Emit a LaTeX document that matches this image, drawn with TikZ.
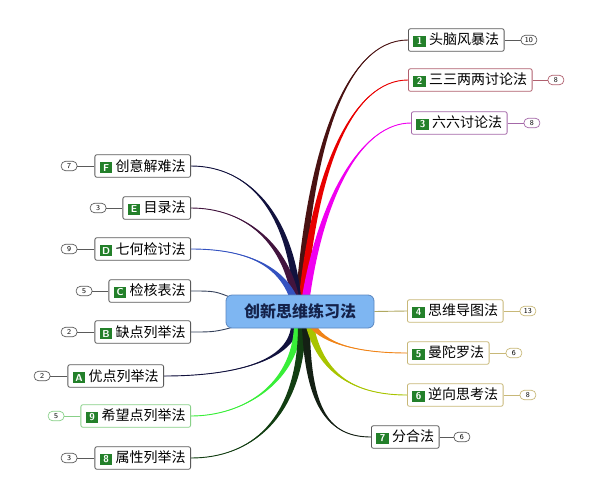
\documentclass[tikz,border=0pt]{standalone}
\usepackage{fontspec}
\newfontfamily\cjk{Noto Sans CJK SC}
\usetikzlibrary{calc,positioning,backgrounds}

\definecolor{hubfill}{HTML}{7EB6F2}
\definecolor{hubline}{HTML}{5A86C0}
\definecolor{hubtext}{HTML}{14224A}
\definecolor{badgegreen}{HTML}{23802A}
\definecolor{boxgray}{HTML}{5A5A5A}
\definecolor{boxred}{HTML}{B0606E}
\definecolor{boxpurple}{HTML}{A468A8}
\definecolor{boxolive}{HTML}{C8B878}
\definecolor{boxgreen}{HTML}{88D088}
\definecolor{brmaroon}{HTML}{4A1212}
\definecolor{brred}{HTML}{E80000}
\definecolor{brmagenta}{HTML}{F000F0}
\definecolor{brnavy}{HTML}{12123E}
\definecolor{brplum}{HTML}{42143E}
\definecolor{brblue}{HTML}{3452C0}
\definecolor{brslate}{HTML}{34405A}
\definecolor{brgreen}{HTML}{38EE38}
\definecolor{brdkgreen}{HTML}{123E12}
\definecolor{brblack}{HTML}{142014}
\definecolor{brlime}{HTML}{A8C400}
\definecolor{brorange}{HTML}{F08418}
\definecolor{brolive}{HTML}{B0A860}

\newcommand{\numbadge}[1]{{\setlength{\fboxsep}{1.8pt}\colorbox{badgegreen}{\makebox[9pt]{\color{white}\sffamily\bfseries\fontsize{10}{10}\selectfont #1}}}}

% colour, start, control 1, control 2, end
\newcommand{\branch}[5]{%
  \fill[#1] ($(#2)+(-4,0)$) .. controls ($(#3)+(-2.5,0)$) and (#4) .. (#5)
    .. controls (#4) and ($(#3)+(2.5,0)$) .. ($(#2)+(4,0)$) -- cycle;
  \draw[#1,line width=0.9pt] (#2) .. controls (#3) and (#4) .. (#5);
}

\tikzset{
  hub/.style={draw=hubline,fill=hubfill,rounded corners=6pt,line width=0.8pt,
    minimum width=148pt,minimum height=33pt,text=hubtext,
    font=\cjk\bfseries\fontsize{16}{18}\selectfont},
  topic/.style={draw=#1,fill=white,rounded corners=2pt,line width=0.8pt,
    minimum height=22.5pt,inner xsep=5pt,inner ysep=2pt,font=\cjk\fontsize{14}{16}\selectfont},
  topic/.default=boxgray,
  count/.style={draw=#1,fill=white,rounded corners=4.5pt,line width=0.7pt,
    minimum width=16pt,minimum height=9.5pt,inner xsep=2pt,inner ysep=0.3pt,
    font=\sffamily\fontsize{7.5}{8}\selectfont},
  count/.default=boxgray,
  link/.style={draw=#1,line width=0.8pt},
  link/.default=boxgray
}

\begin{document}
\begin{tikzpicture}[x=1pt,y=-1pt]
  \useasboundingbox (0,0) rectangle (600,499);

  \node[hub] (ctr) at (300,311.5) {创新思维练习法};

  % right side
  \node[topic,anchor=west] (t1) at (408,40) {\numbadge{1} 头脑风暴法};
  \node[topic=boxred,anchor=west] (t2) at (408,80) {\numbadge{2} 三三两两讨论法};
  \node[topic=boxpurple,anchor=west] (t3) at (411,123) {\numbadge{3} 六六讨论法};
  \node[topic=boxolive,anchor=west] (t4) at (407,311) {\numbadge{4} 思维导图法};
  \node[topic=boxolive,anchor=west] (t5) at (407,353) {\numbadge{5} 曼陀罗法};
  \node[topic=boxolive,anchor=west] (t6) at (407,395) {\numbadge{6} 逆向思考法};
  \node[topic,anchor=west] (t7) at (371,437) {\numbadge{7} 分合法};

  % left side
  \node[topic,anchor=east] (tF) at (191,166) {\numbadge{F} 创意解难法};
  \node[topic,anchor=east] (tE) at (191,208) {\numbadge{E} 目录法};
  \node[topic,anchor=east] (tD) at (191,249) {\numbadge{D} 七何检讨法};
  \node[topic,anchor=east] (tC) at (191,291) {\numbadge{C} 检核表法};
  \node[topic,anchor=east] (tB) at (191,332) {\numbadge{B} 缺点列举法};
  \node[topic,anchor=east] (tA) at (164,376) {\numbadge{A} 优点列举法};
  \node[topic=boxgreen,anchor=east] (t9) at (191,416) {\numbadge{9} 希望点列举法};
  \node[topic,anchor=east] (t8) at (191,458) {\numbadge{8} 属性列举法};

  % counts
  \node[count,right=16pt of t1] (n1) {10};
  \node[count=boxred,right=15pt of t2] (n2) {8};
  \node[count=boxpurple,right=16pt of t3] (n3) {8};
  \node[count=boxolive,right=16pt of t4] (n4) {13};
  \node[count=boxolive,right=16pt of t5] (n5) {6};
  \node[count=boxolive,right=16pt of t6] (n6) {8};
  \node[count,right=14pt of t7] (n7) {6};
  \node[count,left=17pt of tF] (nF) {7};
  \node[count,left=16pt of tE] (nE) {3};
  \node[count,left=17pt of tD] (nD) {9};
  \node[count,left=16pt of tC] (nC) {5};
  \node[count,left=17pt of tB] (nB) {2};
  \node[count,left=17pt of tA] (nA) {2};
  \node[count=boxgreen,left=16pt of t9] (n9) {5};
  \node[count,left=17pt of t8] (n8) {3};

  \draw[link] (t1) -- (n1);
  \draw[link=boxred] (t2) -- (n2);
  \draw[link=boxpurple] (t3) -- (n3);
  \draw[link=boxolive] (t4) -- (n4);
  \draw[link=boxolive] (t5) -- (n5);
  \draw[link=boxolive] (t6) -- (n6);
  \draw[link] (t7) -- (n7);
  \draw[link] (tF) -- (nF);
  \draw[link] (tE) -- (nE);
  \draw[link] (tD) -- (nD);
  \draw[link] (tC) -- (nC);
  \draw[link] (tB) -- (nB);
  \draw[link] (tA) -- (nA);
  \draw[link=boxgreen] (t9) -- (n9);
  \draw[link] (t8) -- (n8);

  \begin{scope}[on background layer]
    \coordinate (s1) at ($(ctr.north)+(0,2)$);
    \coordinate (s2) at ($(ctr.north)+(3,2)$);
    \coordinate (s3) at ($(ctr.north)+(6,2)$);
    \coordinate (sF) at ($(ctr.north)+(-3,2)$);
    \coordinate (sE) at ($(ctr.north)+(-5,2)$);
    \coordinate (sD) at ($(ctr.north)+(-7,2)$);
    \coordinate (sA) at ($(ctr.south)+(-5,-2)$);
    \coordinate (s9) at ($(ctr.south)+(-2,-2)$);
    \coordinate (s8) at ($(ctr.south)+(2,-2)$);
    \coordinate (s7) at ($(ctr.south)+(6,-2)$);
    \coordinate (s6) at ($(ctr.south)+(10,-2)$);
    \coordinate (s5) at ($(ctr.south)+(13,-2)$);

    \branch{brmaroon}{s1}{310,150}{345,40}{t1.west}
    \branch{brred}{s2}{315,170}{352,80}{t2.west}
    \branch{brmagenta}{s3}{322,195}{362,123}{t3.west}
    \branch{brnavy}{sF}{290,215}{250,166}{tF.east}
    \branch{brplum}{sE}{284,240}{242,208}{tE.east}
    \branch{brblue}{sD}{278,262}{240,249}{tD.east}
    \branch{brnavy}{sA}{290,362}{232,376}{tA.east}
    \branch{brgreen}{s9}{294,385}{242,416}{t9.east}
    \branch{brdkgreen}{s8}{300,420}{250,458}{t8.east}
    \branch{brblack}{s7}{308,410}{330,437}{t7.west}
    \branch{brlime}{s6}{322,378}{360,395}{t6.west}
    \branch{brorange}{s5}{326,345}{362,353}{t5.west}

    \draw[brslate,line width=0.9pt] (tC.east) .. controls (215,291) .. ($(ctr.north west)+(8,4)$);
    \draw[brslate,line width=0.9pt] (tB.east) .. controls (215,332) .. ($(ctr.south west)+(14,-3)$);
    \draw[brolive,line width=0.9pt] (ctr.east) -- (t4.west);
  \end{scope}
\end{tikzpicture}
\end{document}
